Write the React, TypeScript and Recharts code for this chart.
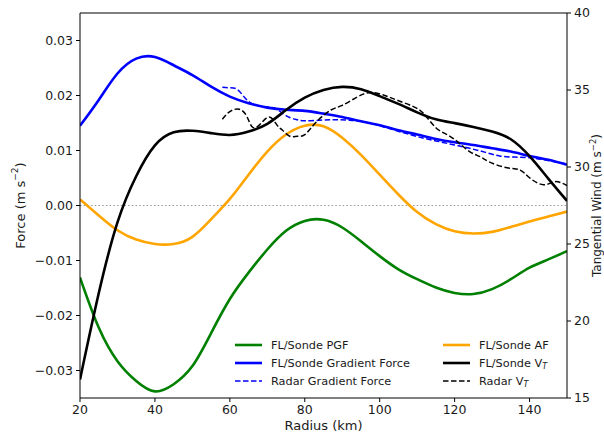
import React from "react";
import { LineChart, Line, XAxis, YAxis, ReferenceLine, Legend } from "recharts";

// ---- data ----
const radius = [20, 25, 30, 35, 40, 45, 50, 55, 60, 65, 70, 75, 80, 85, 90, 95, 100, 105, 110, 115, 120, 125, 130, 135, 140, 145, 150];
const pgf = [-0.0131, -0.0222, -0.0283, -0.0319, -0.0338, -0.0325, -0.0292, -0.0232, -0.017, -0.0122, -0.008, -0.0046, -0.0028, -0.0026, -0.004, -0.0065, -0.0092, -0.0116, -0.0134, -0.0149, -0.0159, -0.0161, -0.0152, -0.0134, -0.0113, -0.0098, -0.0083];
const gradientForce = [0.0145, 0.0192, 0.024, 0.0267, 0.027, 0.0255, 0.0237, 0.0216, 0.0198, 0.0186, 0.0178, 0.0174, 0.0172, 0.0167, 0.0161, 0.0153, 0.0146, 0.0137, 0.0129, 0.0121, 0.0115, 0.011, 0.0104, 0.0098, 0.009, 0.0083, 0.0074];
const af = [0.0011, -0.0018, -0.0045, -0.0062, -0.007, -0.007, -0.0057, -0.0025, 0.0012, 0.0056, 0.0098, 0.0129, 0.0145, 0.0144, 0.0123, 0.0092, 0.0056, 0.002, -0.0012, -0.0034, -0.0047, -0.0051, -0.0048, -0.0039, -0.0029, -0.002, -0.0011];
const vt = [16.2, 21.8, 26.4, 29.4, 31.4, 32.25, 32.35, 32.2, 32.08, 32.3, 32.8, 33.7, 34.5, 35.0, 35.2, 35.05, 34.6, 34.1, 33.55, 33.1, 32.85, 32.6, 32.3, 31.8, 30.7, 29.25, 27.8];

const radarGfRadius = [58, 60, 62, 64, 66, 68, 70, 72, 74, 76, 78, 80, 84, 88, 92, 96, 100, 104, 108, 112, 116, 120, 124, 128, 132, 136, 140, 144, 148, 150];
const radarGf = [0.0215, 0.0214, 0.0211, 0.0196, 0.0185, 0.0181, 0.0179, 0.0177, 0.0168, 0.016, 0.0156, 0.0154, 0.0155, 0.0156, 0.0155, 0.0152, 0.0145, 0.0137, 0.0129, 0.0122, 0.0116, 0.011, 0.0104, 0.0097, 0.009, 0.0088, 0.0087, 0.0083, 0.0078, 0.0076];

const radarVtRadius = [58, 60, 62.5, 64.5, 66, 68, 70.5, 72.5, 74, 76, 78, 80, 83, 87, 90, 94, 97.5, 101, 104.5, 109, 112, 115, 118, 121, 124, 126.8, 129.5, 134, 137.5, 140, 143.7, 146.8, 150];
const radarVt = [33.1, 33.6, 33.75, 33.3, 32.6, 32.75, 33.25, 32.75, 32.4, 32.0, 32.0, 32.1, 32.9, 33.7, 34.0, 34.55, 34.83, 34.68, 34.35, 33.92, 33.4, 32.55, 32.1, 31.6, 31.0, 30.67, 30.3, 29.95, 29.8, 29.3, 28.85, 29.05, 28.8];

const xTicks = [20, 40, 60, 80, 100, 120, 140];
const forceTicks = [-0.03, -0.02, -0.01, 0, 0.01, 0.02, 0.03];
const windTicks = [15, 20, 25, 30, 35, 40];

const legendItems = [
  { name: "FL/Sonde PGF", color: "#008000", dash: false, col: 0, row: 0 },
  { name: "FL/Sonde Gradient Force", color: "#0000ff", dash: false, col: 0, row: 1 },
  { name: "Radar Gradient Force", color: "#0000ff", dash: true, col: 0, row: 2 },
  { name: "FL/Sonde AF", color: "#ffa500", dash: false, col: 1, row: 0 },
  { name: "FL/Sonde V", sub: "T", color: "#000000", dash: false, col: 1, row: 1 },
  { name: "Radar V", sub: "T", color: "#000000", dash: true, col: 1, row: 2 },
];

// ---- build tables ----
const mainData = radius.map((r, i) => ({ r, pgf: pgf[i], gf: gradientForce[i], af: af[i], vt: vt[i] }));
const radarGfData = radarGfRadius.map((r, i) => ({ r, v: radarGf[i] }));
const radarVtData = radarVtRadius.map((r, i) => ({ r, v: radarVt[i] }));

const FONT = "DejaVu Sans";
const TXT = "#1a1a1a";

const fmtForce = (v: number) => (v < 0 ? "\u2212" : "") + Math.abs(v).toFixed(2);

const LeftTitle = () => (
  <text x={20} y={205.5} transform="rotate(-90 20 205.5)" textAnchor="middle" dominantBaseline="central" fontFamily={FONT} fontSize={13} fill={TXT}>
    Force (m s<tspan dy={-5} fontSize={9}>{"\u22122"}</tspan><tspan dy={5}>)</tspan>
  </text>
);

const RightTitle = () => (
  <text x={597} y={205.5} transform="rotate(-90 597 205.5)" textAnchor="middle" dominantBaseline="central" fontFamily={FONT} fontSize={12} fill={TXT}>
    Tangential Wind (m s<tspan dy={-4} fontSize={8.5}>{"\u22122"}</tspan><tspan dy={4}>)</tspan>
  </text>
);

const BottomTitle = () => (
  <text x={323.5} y={430} textAnchor="middle" fontFamily={FONT} fontSize={13} fill={TXT}>
    Radius (km)
  </text>
);

const LegendContent = () => (
  <svg width={604} height={437} style={{ position: "absolute", left: 0, top: 0 }}>
    {legendItems.map((it) => {
      const x0 = it.col === 0 ? 235 : 443;
      const y = 345 + it.row * 18;
      return (
        <g key={it.name + it.row + it.col}>
          <line x1={x0} x2={x0 + 27} y1={y} y2={y} stroke={it.color} strokeWidth={it.dash ? 1.5 : 2.6} strokeDasharray={it.dash ? "5.5 2.5" : undefined} />
          <text x={x0 + 36} y={y} dominantBaseline="central" fontFamily={FONT} fontSize={11.3} fill={TXT}>
            {it.name}
            {it.sub ? <tspan dy={3} fontSize={8} fontStyle="italic">{it.sub}</tspan> : null}
          </text>
        </g>
      );
    })}
  </svg>
);

export default function App() {
  const tickStyle = { fontFamily: FONT, fontSize: 12.5, fill: TXT };
  return (
    <div style={{ position: "absolute", left: 0, top: 0, width: 604, height: 437, background: "#fff" }}>
      <LineChart width={604} height={437} margin={{ top: 13, right: 0, bottom: 0, left: 0 }}>
        <XAxis
          dataKey="r"
          type="number"
          domain={[20, 150]}
          ticks={xTicks}
          allowDataOverflow
          height={39}
          stroke="#000"
          tick={tickStyle}
          tickSize={4}
          tickMargin={3}
          label={<BottomTitle />}
        />
        <YAxis
          yAxisId="force"
          type="number"
          domain={[-0.035, 0.035]}
          ticks={forceTicks}
          allowDataOverflow
          width={80}
          stroke="#000"
          tick={tickStyle}
          tickSize={4}
          tickMargin={3}
          tickFormatter={fmtForce}
          label={<LeftTitle />}
        />
        <YAxis
          yAxisId="wind"
          orientation="right"
          type="number"
          domain={[15, 40]}
          ticks={windTicks}
          allowDataOverflow
          width={37}
          stroke="#000"
          tick={tickStyle}
          tickSize={4}
          tickMargin={3}
          label={<RightTitle />}
        />
        <ReferenceLine yAxisId="force" y={0.035} stroke="#000" strokeWidth={1} />
        <ReferenceLine yAxisId="force" y={0} stroke="#999" strokeWidth={1.2} strokeDasharray="1.5 2.2" />
        <Line yAxisId="force" data={mainData} dataKey="pgf" type="natural" stroke="#008000" strokeWidth={2.6} dot={false} activeDot={false} isAnimationActive={false} />
        <Line yAxisId="force" data={mainData} dataKey="gf" type="natural" stroke="#0000ff" strokeWidth={2.6} dot={false} activeDot={false} isAnimationActive={false} />
        <Line yAxisId="force" data={radarGfData} dataKey="v" type="natural" stroke="#0000ff" strokeWidth={1.5} strokeDasharray="5.5 2.5" dot={false} activeDot={false} isAnimationActive={false} />
        <Line yAxisId="force" data={mainData} dataKey="af" type="natural" stroke="#ffa500" strokeWidth={2.6} dot={false} activeDot={false} isAnimationActive={false} />
        <Line yAxisId="wind" data={mainData} dataKey="vt" type="natural" stroke="#000000" strokeWidth={2.6} dot={false} activeDot={false} isAnimationActive={false} />
        <Line yAxisId="wind" data={radarVtData} dataKey="v" type="natural" stroke="#000000" strokeWidth={1.5} strokeDasharray="5.5 2.5" dot={false} activeDot={false} isAnimationActive={false} />
        <Legend
          layout="horizontal"
          verticalAlign="middle"
          align="center"
          content={<LegendContent />}
          wrapperStyle={{ position: "absolute", left: 0, top: 0, width: 604, height: 437, pointerEvents: "none" }}
        />
      </LineChart>
    </div>
  );
}
